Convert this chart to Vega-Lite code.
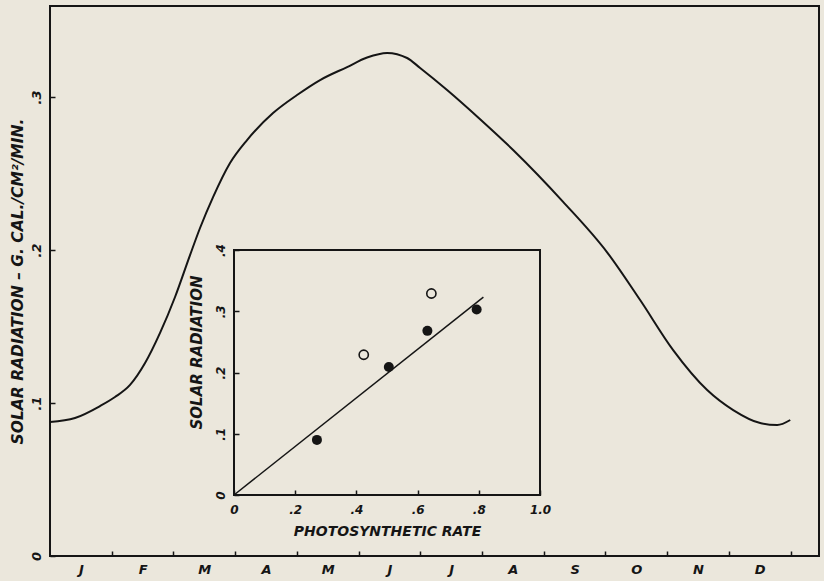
{
  "$schema": "https://vega.github.io/schema/vega-lite/v6.json",
  "width": 769,
  "height": 550,
  "autosize": {"type": "none"},
  "padding": {"left": 50, "top": 6, "right": 5, "bottom": 25},
  "background": "#ebe7dc",
  "config": {
    "view": {"stroke": "#151515", "strokeWidth": 2},
    "axis": {
      "grid": false,
      "labelFont": "DejaVu Sans",
      "titleFont": "DejaVu Sans",
      "labelFontStyle": "italic",
      "labelFontWeight": "bold",
      "titleFontStyle": "italic",
      "titleFontWeight": "bold",
      "labelColor": "#151515",
      "titleColor": "#151515",
      "tickColor": "#151515",
      "domainColor": "#151515",
      "labelFlush": false,
      "labelOverlap": false
    }
  },
  "datasets": {
    "curve": [
      {"month": 0.0, "radiation": 0.0876},
      {"month": 0.405, "radiation": 0.0902},
      {"month": 0.81, "radiation": 0.098},
      {"month": 1.053, "radiation": 0.1039},
      {"month": 1.297, "radiation": 0.1118},
      {"month": 1.54, "radiation": 0.1261},
      {"month": 1.783, "radiation": 0.1458},
      {"month": 2.026, "radiation": 0.1693},
      {"month": 2.269, "radiation": 0.1967},
      {"month": 2.431, "radiation": 0.2144},
      {"month": 2.642, "radiation": 0.2346},
      {"month": 2.917, "radiation": 0.2569},
      {"month": 3.193, "radiation": 0.2719},
      {"month": 3.614, "radiation": 0.2895},
      {"month": 4.003, "radiation": 0.3013},
      {"month": 4.376, "radiation": 0.3111},
      {"month": 4.814, "radiation": 0.3196},
      {"month": 5.138, "radiation": 0.3258},
      {"month": 5.462, "radiation": 0.3288},
      {"month": 5.786, "radiation": 0.3255},
      {"month": 5.997, "radiation": 0.319},
      {"month": 6.434, "radiation": 0.3046},
      {"month": 6.969, "radiation": 0.2855},
      {"month": 7.504, "radiation": 0.2654},
      {"month": 8.314, "radiation": 0.2315},
      {"month": 9.027, "radiation": 0.1985},
      {"month": 9.562, "radiation": 0.1673},
      {"month": 10.097, "radiation": 0.1346},
      {"month": 10.648, "radiation": 0.1085},
      {"month": 11.07, "radiation": 0.0954},
      {"month": 11.507, "radiation": 0.0869},
      {"month": 11.783, "radiation": 0.0856},
      {"month": 11.994, "radiation": 0.0889}
    ],
    "inset": [
      {"rate": 0.271, "radiation": 0.09, "symbol": "filled"},
      {"rate": 0.424, "radiation": 0.229, "symbol": "open"},
      {"rate": 0.506, "radiation": 0.209, "symbol": "filled"},
      {"rate": 0.632, "radiation": 0.268, "symbol": "filled"},
      {"rate": 0.645, "radiation": 0.329, "symbol": "open"},
      {"rate": 0.793, "radiation": 0.303, "symbol": "filled"}
    ],
    "fit": [
      {"rate": 0.0, "radiation": 0.0},
      {"rate": 0.815, "radiation": 0.323}
    ]
  },
  "layer": [
    {
      "data": {"name": "curve"},
      "mark": {"type": "line", "interpolate": "monotone", "color": "#151515", "strokeWidth": 2},
      "encoding": {
        "x": {
          "field": "month",
          "type": "quantitative",
          "scale": {"domain": [0, 12.46], "nice": false, "zero": false},
          "axis": {
            "orient": "bottom",
            "values": [1, 2, 3, 4, 5, 6, 7, 8, 9, 10, 11, 12],
            "domain": false,
            "tickSize": -5,
            "tickWidth": 1.5,
            "labelOffset": -30.85,
            "labelPadding": 12,
            "labelFontSize": 13,
            "labelExpr": "['J','F','M','A','M','J','J','A','S','O','N','D'][datum.value - 1]",
            "title": null
          }
        },
        "y": {
          "field": "radiation",
          "type": "quantitative",
          "scale": {"domain": [0, 0.3595], "nice": false},
          "axis": {
            "orient": "left",
            "values": [0, 0.1, 0.2, 0.3],
            "domain": false,
            "tickSize": -5,
            "tickWidth": 1.5,
            "labelAngle": -90,
            "labelPadding": 12,
            "labelFontSize": 13,
            "labelExpr": "datum.value == 0 ? '0' : replace(format(datum.value, '.1f'), '0.', '.')",
            "title": "SOLAR  RADIATION – G. CAL./CM²/MIN.",
            "titleFontSize": 15.5,
            "titlePadding": 5
          }
        }
      }
    },
    {
      "layer": [
        {
          "data": {"values": [{}]},
          "mark": {"type": "rect", "filled": false, "stroke": "#151515", "strokeWidth": 2},
          "encoding": {
            "x": {"datum": 0, "type": "quantitative"},
            "x2": {"datum": 1},
            "y": {"datum": 0, "type": "quantitative"},
            "y2": {"datum": 0.4}
          }
        },
        {
          "data": {"name": "fit"},
          "mark": {"type": "line", "color": "#151515", "strokeWidth": 1.5},
          "encoding": {
            "x": {"field": "rate", "type": "quantitative"},
            "y": {"field": "radiation", "type": "quantitative"}
          }
        },
        {
          "data": {"name": "inset"},
          "transform": [{"filter": "datum.symbol == 'filled'"}],
          "mark": {"type": "point", "filled": true, "color": "#151515", "size": 100, "opacity": 1},
          "encoding": {
            "x": {"field": "rate", "type": "quantitative"},
            "y": {"field": "radiation", "type": "quantitative"}
          }
        },
        {
          "data": {"name": "inset"},
          "transform": [{"filter": "datum.symbol == 'open'"}],
          "mark": {"type": "point", "filled": false, "stroke": "#151515", "strokeWidth": 1.6, "size": 85, "opacity": 1},
          "encoding": {
            "x": {"field": "rate", "type": "quantitative"},
            "y": {"field": "radiation", "type": "quantitative"}
          }
        }
      ],
      "encoding": {
        "x": {
          "type": "quantitative",
          "scale": {"domain": [0, 1], "range": [184, 490], "nice": false, "zero": false},
          "axis": {
            "orient": "bottom",
            "offset": -61,
            "values": [0, 0.2, 0.4, 0.6, 0.8, 1],
            "domain": false,
            "tickSize": -5,
            "tickWidth": 1.5,
            "labelPadding": 14,
            "labelFontSize": 12,
            "labelExpr": "datum.value == 0 ? '0' : replace(format(datum.value, '.1f'), '0.', '.')",
            "title": "PHOTOSYNTHETIC RATE",
            "titleFontSize": 14,
            "titlePadding": 9
          }
        },
        "y": {
          "type": "quantitative",
          "scale": {"domain": [0, 0.4], "range": [489, 244], "nice": false},
          "axis": {
            "orient": "left",
            "offset": -184,
            "values": [0, 0.1, 0.2, 0.3, 0.4],
            "domain": false,
            "tickSize": -5,
            "tickWidth": 1.5,
            "labelAngle": -90,
            "labelPadding": 12,
            "labelFontSize": 12,
            "labelExpr": "datum.value == 0 ? '0' : replace(format(datum.value, '.1f'), '0.', '.')",
            "title": "SOLAR   RADIATION",
            "titleFontSize": 15,
            "titleY": 346,
            "titlePadding": 10
          }
        }
      }
    }
  ],
  "resolve": {
    "scale": {"x": "independent", "y": "independent"},
    "axis": {"x": "independent", "y": "independent"}
  }
}
